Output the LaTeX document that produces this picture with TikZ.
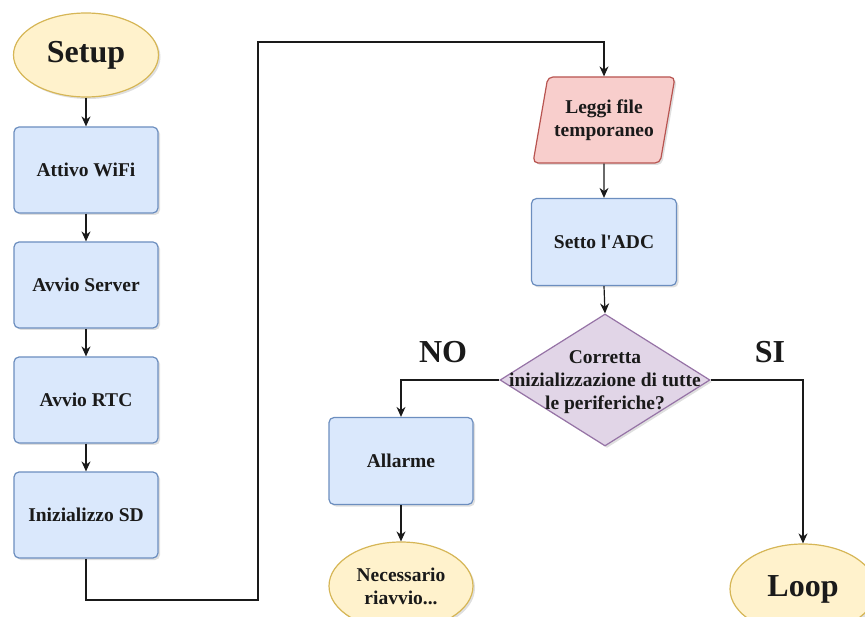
\documentclass[tikz,border=0pt]{standalone}
\usepackage{fontspec}
\setmainfont{Liberation Serif}
\usetikzlibrary{shapes.geometric,arrows.meta,shadows}
\definecolor{bfill}{HTML}{DAE8FC}
\definecolor{bline}{HTML}{6C8EBF}
\definecolor{yfill}{HTML}{FFF2CC}
\definecolor{yline}{HTML}{D6B656}
\definecolor{rfill}{HTML}{F8CECC}
\definecolor{rline}{HTML}{B85450}
\definecolor{pfill}{HTML}{E1D5E7}
\definecolor{pline}{HTML}{9673A6}
\definecolor{ink}{HTML}{1A1A1A}
\begin{document}
\begin{tikzpicture}[x=1pt,y=-1pt,
  shade/.style={drop shadow={opacity=0.25,shadow xshift=2pt,shadow yshift=-2pt}},
  txt/.style={font=\fontsize{19.5}{23}\selectfont\bfseries, text=ink, align=center},
  big/.style={font=\fontsize{32}{36}\selectfont\bfseries, text=ink},
  proc/.style={txt, rectangle, rounded corners=5pt, draw=bline, fill=bfill, line width=1.2pt,
    minimum width=144pt, minimum height=86pt, inner sep=0pt, shade},
  term/.style={ellipse, draw=yline, fill=yfill, line width=1.2pt, inner sep=0pt, shade},
  io/.style={txt, trapezium, trapezium left angle=70, trapezium right angle=110,
    trapezium stretches body, rounded corners=5pt, draw=rline, fill=rfill, line width=1.2pt,
    minimum width=142pt, minimum height=86pt, inner sep=0pt, shade},
  dec/.style={diamond, draw=pline, fill=pfill, line width=1.2pt, inner sep=0pt,
    minimum width=210pt, minimum height=132pt, shade},
  arr/.style={draw=ink, line width=1.2pt, -{Stealth[length=10pt,width=9pt]}},
  ln/.style={draw=ink, line width=1.2pt}]
\clip (0,0) rectangle (865,617);
\useasboundingbox (0,0) rectangle (865,617);

% left column
\node[term, big, minimum width=145pt, minimum height=84pt] (setup) at (86,55) {Setup};
\node[proc] (wifi) at (86,170) {Attivo WiFi};
\node[proc] (server) at (86,285) {Avvio Server};
\node[proc] (rtc) at (86,400) {Avvio RTC};
\node[proc] (sd) at (86,515) {Inizializzo SD};

\draw[arr] (setup.south) -- (wifi.north);
\draw[arr] (wifi.south) -- (server.north);
\draw[arr] (server.south) -- (rtc.north);
\draw[arr] (rtc.south) -- (sd.north);

% right column
\node[io] (leggi) at (604,120) {Leggi file\\temporaneo};
\node[proc, minimum width=145pt, minimum height=87pt] (adc) at (604,242) {Setto l\textquotesingle ADC};
\node[dec] (check) at (605,380) {};
\node[txt] (checktxt) at (605,382) {Corretta\\inizializzazione di tutte\\le periferiche?};

\coordinate (ca) at (258,600);
\coordinate (cb) at (258,42);
\draw[arr] (sd.south) |- (ca) -- (cb) -| (leggi.north);
\draw[arr] (leggi.south) -- (adc.north);
\draw[arr] (adc.south) -- (check.north);

% branches
\node[proc, minimum height=87pt] (alarm) at (401,461) {Allarme};
\node[term, txt, minimum width=144pt, minimum height=88pt] (riavvio) at (401,586) {Necessario\\riavvio...};
\node[term, big, minimum width=146pt, minimum height=90pt] (loop) at (803,589) {Loop};

\draw[arr] (check.west) -| (alarm.north);
\draw[arr] (alarm.south) -- (riavvio.north);
\draw[arr] (check.east) -| (loop.north);

\node[big] (no) at (443,352) {NO};
\node[big] (si) at (770,352) {SI};
\end{tikzpicture}
\end{document}
